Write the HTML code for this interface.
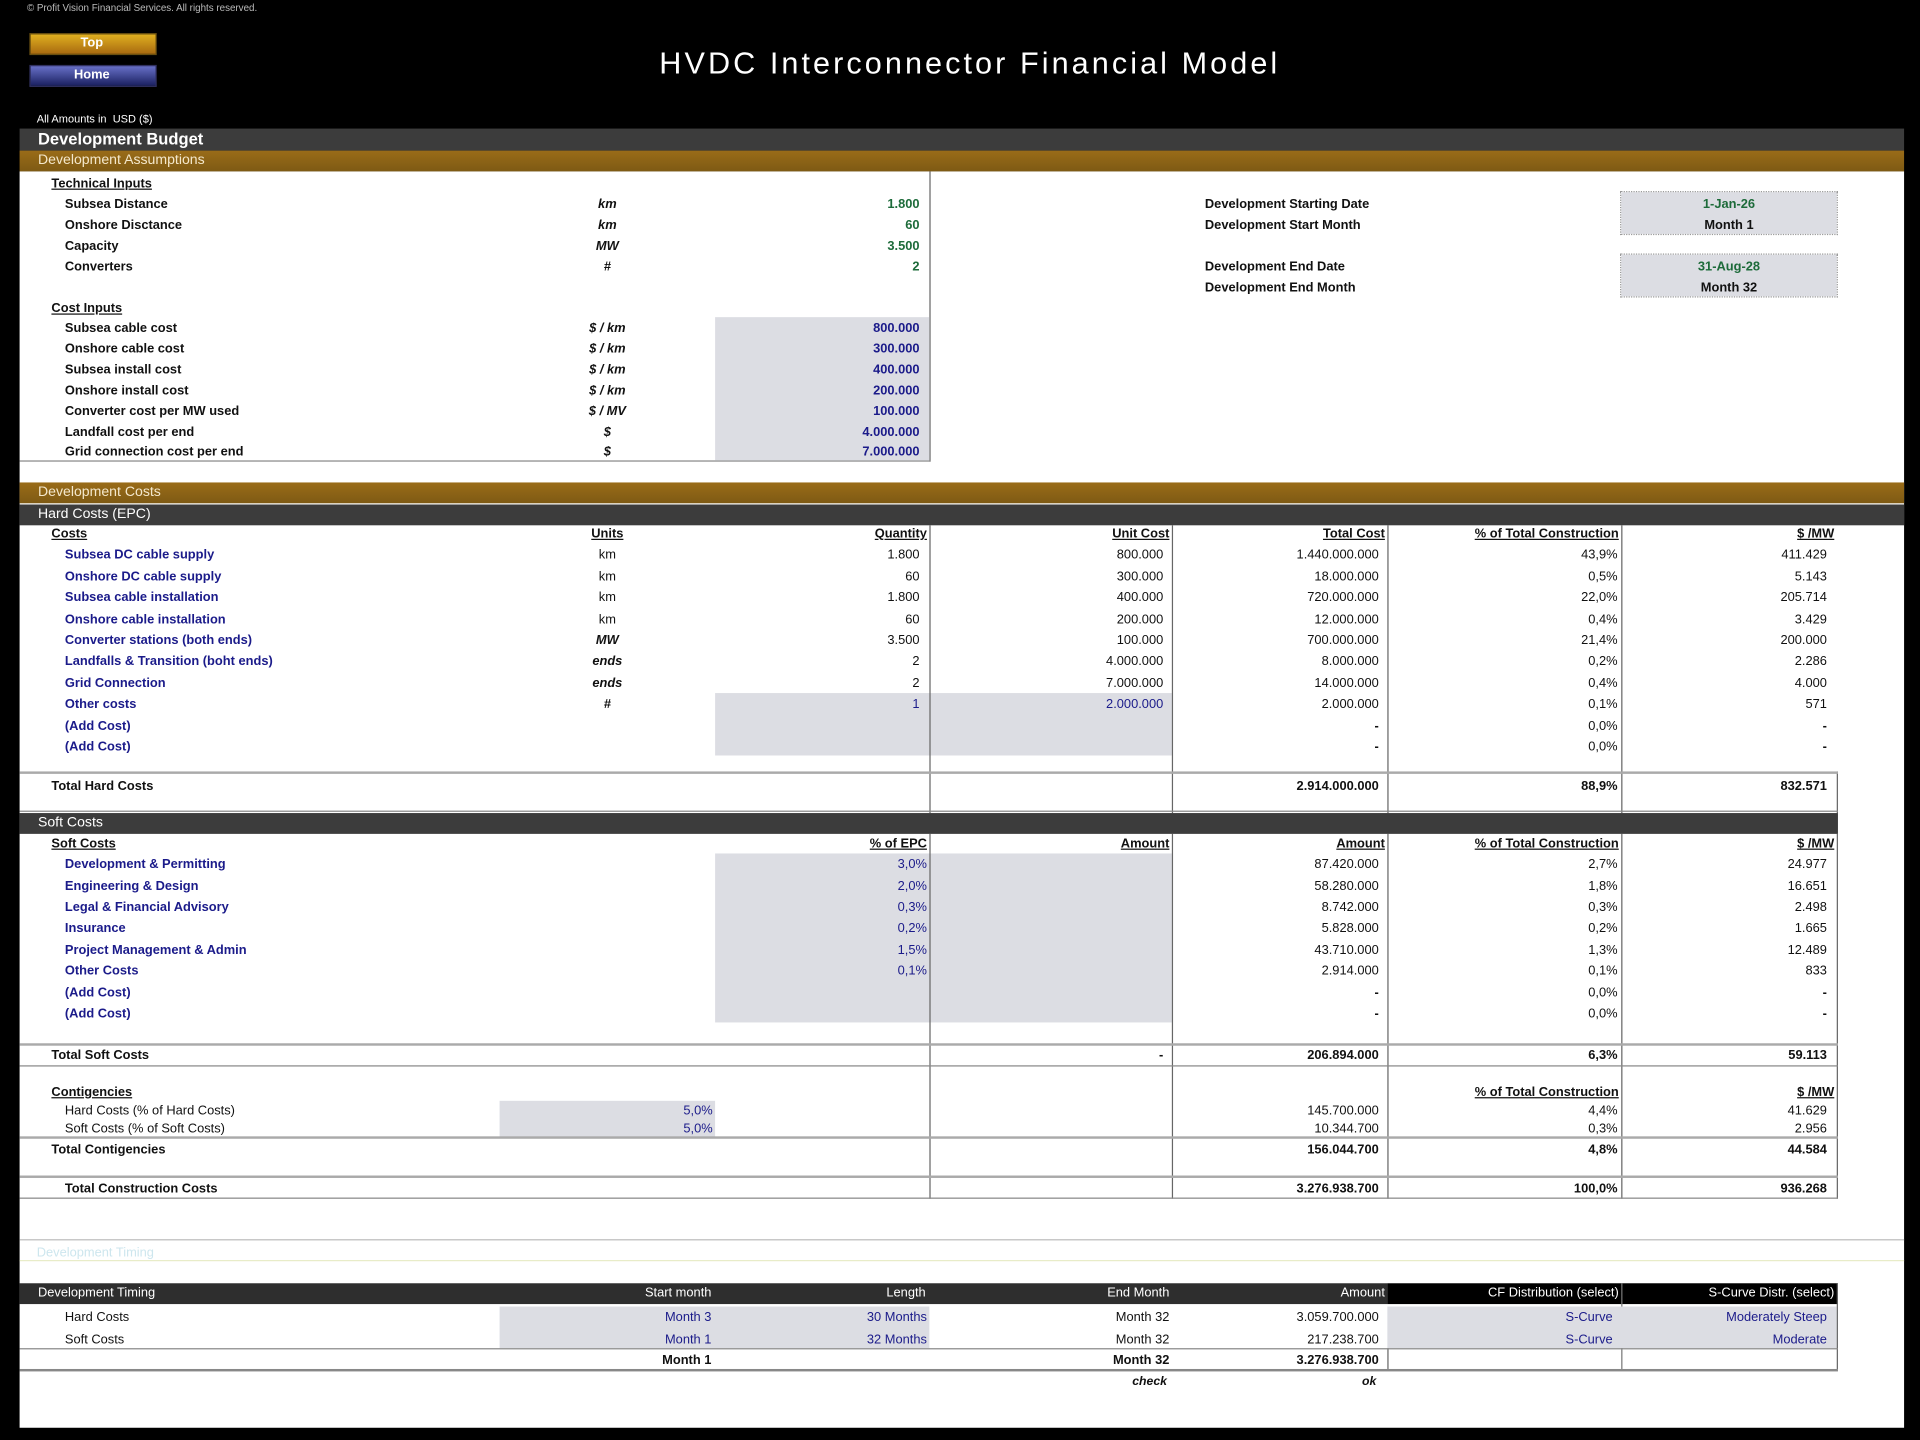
<!DOCTYPE html>
<html><head><meta charset="utf-8"><style>
html,body{margin:0;padding:0;background:#000;}
#wrap{position:relative;width:1568px;height:1176px;transform:scale(1.22449);transform-origin:0 0;background:#000;overflow:hidden;font-family:"Liberation Sans",sans-serif;}
div{position:absolute;}
.t{white-space:nowrap;font-size:10.5px;line-height:14px;font-weight:bold;color:#111;}
.r{text-align:right;}
.c{text-align:center;}
.u{text-decoration:underline;}
.b{color:#1b1b8a;}
.g{color:#1d6b3a;}
.i{font-style:italic;}
.box{background:#dcdde3;}
.vl{width:1px;background:#666;}
.hl{height:1px;background:#888;}
.bar{color:#fff;font-weight:bold;white-space:nowrap;}
</style></head><body><div id="wrap">
<div class="t" style="left:22px;top:0px;font-size:8px;font-weight:normal;color:#bbb">© Profit Vision Financial Services. All rights reserved.</div>
<div style="left:24px;top:27px;width:102px;height:16px;background:linear-gradient(#e0b020,#a86a10);border:1px solid #6a5010"></div>
<div class="t c" style="left:24px;top:28px;width:102px;color:#fff">Top</div>
<div style="left:24px;top:53px;width:102px;height:16px;background:linear-gradient(#6870c8,#1a2060);border:1px solid #303060"></div>
<div class="t c" style="left:24px;top:54px;width:102px;color:#fff">Home</div>
<div class="bar" style="left:0;width:1584px;top:38px;text-align:center;font-size:25px;font-weight:normal;letter-spacing:2.5px">HVDC Interconnector Financial Model</div>
<div class="t" style="left:30px;top:90px;color:#fff;font-size:9px;font-weight:normal">All Amounts in&nbsp; USD ($)</div>

<div style="left:16px;top:105px;width:1539px;height:18px;background:#3c3c3c"></div>
<div class="bar" style="left:31px;top:105px;font-size:13.5px;line-height:18px">Development Budget</div>
<div style="left:16px;top:123px;width:1539px;height:17px;background:linear-gradient(#9a6c18,#7e5a14)"></div>
<div class="bar" style="left:31px;top:123px;font-size:11.5px;line-height:17px;color:#f4e8cc;font-weight:normal">Development Assumptions</div>

<div style="left:16px;top:140px;width:1539px;height:1026px;background:#fff"></div>

<!-- assumptions -->
<div class="vl" style="left:759px;top:140px;height:237px"></div>
<div class="hl" style="left:16px;top:376px;width:744px"></div>
<div class="box" style="left:584px;top:259px;width:175px;height:117px"></div>
<div class="box" style="left:1324px;top:157px;width:176px;height:34px;outline:1px dotted #999"></div>
<div class="box" style="left:1324px;top:208px;width:176px;height:34px;outline:1px dotted #999"></div>

<div class="t u" style="left:42px;top:143px">Technical Inputs</div>
<div class="t" style="left:53px;top:160px">Subsea Distance</div>
<div class="t" style="left:53px;top:177px">Onshore Disctance</div>
<div class="t" style="left:53px;top:194px">Capacity</div>
<div class="t" style="left:53px;top:211px">Converters</div>
<div class="t i c" style="left:466px;width:60px;top:160px">km</div>
<div class="t i c" style="left:466px;width:60px;top:177px">km</div>
<div class="t i c" style="left:466px;width:60px;top:194px">MW</div>
<div class="t i c" style="left:466px;width:60px;top:211px">#</div>
<div class="t r g" style="right:817px;top:160px">1.800</div>
<div class="t r g" style="right:817px;top:177px">60</div>
<div class="t r g" style="right:817px;top:194px">3.500</div>
<div class="t r g" style="right:817px;top:211px">2</div>

<div class="t u" style="left:42px;top:245px">Cost Inputs</div>
<div class="t" style="left:53px;top:261px">Subsea cable cost</div>
<div class="t" style="left:53px;top:278px">Onshore cable cost</div>
<div class="t" style="left:53px;top:295px">Subsea install cost</div>
<div class="t" style="left:53px;top:312px">Onshore install cost</div>
<div class="t" style="left:53px;top:329px">Converter cost per MW used</div>
<div class="t" style="left:53px;top:346px">Landfall cost per end</div>
<div class="t" style="left:53px;top:362px">Grid connection cost per end</div>
<div class="t i c" style="left:466px;width:60px;top:261px">$ / km</div>
<div class="t i c" style="left:466px;width:60px;top:278px">$ / km</div>
<div class="t i c" style="left:466px;width:60px;top:295px">$ / km</div>
<div class="t i c" style="left:466px;width:60px;top:312px">$ / km</div>
<div class="t i c" style="left:466px;width:60px;top:329px">$ / MV</div>
<div class="t i c" style="left:466px;width:60px;top:346px">$</div>
<div class="t i c" style="left:466px;width:60px;top:362px">$</div>
<div class="t r b" style="right:817px;top:261px">800.000</div>
<div class="t r b" style="right:817px;top:278px">300.000</div>
<div class="t r b" style="right:817px;top:295px">400.000</div>
<div class="t r b" style="right:817px;top:312px">200.000</div>
<div class="t r b" style="right:817px;top:329px">100.000</div>
<div class="t r b" style="right:817px;top:346px">4.000.000</div>
<div class="t r b" style="right:817px;top:362px">7.000.000</div>

<div class="t" style="left:984px;top:160px">Development Starting Date</div>
<div class="t" style="left:984px;top:177px">Development Start Month</div>
<div class="t" style="left:984px;top:211px">Development End Date</div>
<div class="t" style="left:984px;top:228px">Development End Month</div>
<div class="t c g" style="left:1324px;width:176px;top:160px">1-Jan-26</div>
<div class="t c" style="left:1324px;width:176px;top:177px">Month 1</div>
<div class="t c g" style="left:1324px;width:176px;top:211px">31-Aug-28</div>
<div class="t c" style="left:1324px;width:176px;top:228px">Month 32</div>

<!-- dev costs -->
<div style="left:16px;top:394px;width:1539px;height:17px;background:linear-gradient(#9a6c18,#7e5a14)"></div>
<div class="bar" style="left:31px;top:394px;font-size:11.5px;line-height:17px;color:#f4e8cc;font-weight:normal">Development Costs</div>
<div style="left:16px;top:412px;width:1539px;height:17px;background:#3c3c3c"></div>
<div class="bar" style="left:31px;top:412px;font-size:11.5px;line-height:17px;font-weight:normal">Hard Costs (EPC)</div>

<div class="box" style="left:584px;top:566px;width:373px;height:51px"></div>
<div class="box" style="left:584px;top:697px;width:373px;height:138px"></div>
<div class="box" style="left:408px;top:899px;width:176px;height:30px"></div>

<div class="vl" style="left:759px;top:429px;height:235px"></div>
<div class="vl" style="left:957px;top:429px;height:235px"></div>
<div class="vl" style="left:1133px;top:429px;height:235px"></div>
<div class="vl" style="left:1324px;top:429px;height:235px"></div>
<div class="vl" style="left:1500px;top:630px;height:34px"></div>
<div class="vl" style="left:759px;top:681px;height:298px"></div>
<div class="vl" style="left:957px;top:681px;height:298px"></div>
<div class="vl" style="left:1133px;top:681px;height:298px"></div>
<div class="vl" style="left:1324px;top:681px;height:298px"></div>
<div class="vl" style="left:1500px;top:681px;height:298px"></div>
<div class="hl" style="left:16px;top:630px;width:1485px;height:2px;background:#aaa"></div>
<div class="hl" style="left:16px;top:662px;width:1485px"></div>
<div class="hl" style="left:16px;top:852px;width:1485px;height:2px;background:#aaa"></div>
<div class="hl" style="left:16px;top:870px;width:1485px"></div>
<div class="hl" style="left:16px;top:928px;width:1485px;height:2px;background:#aaa"></div>
<div class="hl" style="left:16px;top:960px;width:1485px;height:2px;background:#aaa"></div>
<div class="hl" style="left:16px;top:978px;width:1485px"></div>

<div class="t u" style="left:42px;top:429px">Costs</div>
<div class="t u c" style="left:466px;width:60px;top:429px">Units</div>
<div class="t u r" style="right:811px;top:429px">Quantity</div>
<div class="t u r" style="right:613px;top:429px">Unit Cost</div>
<div class="t u r" style="right:437px;top:429px">Total Cost</div>
<div class="t u r" style="right:246px;top:429px">% of Total Construction</div>
<div class="t u r" style="right:70px;top:429px">$ /MW</div>

<div class="t b" style="left:53px;top:446px">Subsea DC cable supply</div>
<div class="t b" style="left:53px;top:464px">Onshore DC cable supply</div>
<div class="t b" style="left:53px;top:481px">Subsea cable installation</div>
<div class="t b" style="left:53px;top:499px">Onshore cable installation</div>
<div class="t b" style="left:53px;top:516px">Converter stations (both ends)</div>
<div class="t b" style="left:53px;top:533px">Landfalls &amp; Transition (boht ends)</div>
<div class="t b" style="left:53px;top:551px">Grid Connection</div>
<div class="t b" style="left:53px;top:568px">Other costs</div>
<div class="t b" style="left:53px;top:586px">(Add Cost)</div>
<div class="t b" style="left:53px;top:603px">(Add Cost)</div>
<div class="t c" style="left:466px;width:60px;top:446px;font-weight:normal">km</div>
<div class="t c" style="left:466px;width:60px;top:464px;font-weight:normal">km</div>
<div class="t c" style="left:466px;width:60px;top:481px;font-weight:normal">km</div>
<div class="t c" style="left:466px;width:60px;top:499px;font-weight:normal">km</div>
<div class="t c i" style="left:466px;width:60px;top:516px">MW</div>
<div class="t c i" style="left:466px;width:60px;top:533px">ends</div>
<div class="t c i" style="left:466px;width:60px;top:551px">ends</div>
<div class="t c i" style="left:466px;width:60px;top:568px">#</div>
<div class="t r" style="right:817px;top:446px;font-weight:normal">1.800</div>
<div class="t r" style="right:817px;top:464px;font-weight:normal">60</div>
<div class="t r" style="right:817px;top:481px;font-weight:normal">1.800</div>
<div class="t r" style="right:817px;top:499px;font-weight:normal">60</div>
<div class="t r" style="right:817px;top:516px;font-weight:normal">3.500</div>
<div class="t r" style="right:817px;top:533px;font-weight:normal">2</div>
<div class="t r" style="right:817px;top:551px;font-weight:normal">2</div>
<div class="t r b" style="right:817px;top:568px;font-weight:normal">1</div>
<div class="t r" style="right:618px;top:446px;font-weight:normal">800.000</div>
<div class="t r" style="right:618px;top:464px;font-weight:normal">300.000</div>
<div class="t r" style="right:618px;top:481px;font-weight:normal">400.000</div>
<div class="t r" style="right:618px;top:499px;font-weight:normal">200.000</div>
<div class="t r" style="right:618px;top:516px;font-weight:normal">100.000</div>
<div class="t r" style="right:618px;top:533px;font-weight:normal">4.000.000</div>
<div class="t r" style="right:618px;top:551px;font-weight:normal">7.000.000</div>
<div class="t r b" style="right:618px;top:568px;font-weight:normal">2.000.000</div>
<div class="t r" style="right:442px;top:446px;font-weight:normal">1.440.000.000</div>
<div class="t r" style="right:442px;top:464px;font-weight:normal">18.000.000</div>
<div class="t r" style="right:442px;top:481px;font-weight:normal">720.000.000</div>
<div class="t r" style="right:442px;top:499px;font-weight:normal">12.000.000</div>
<div class="t r" style="right:442px;top:516px;font-weight:normal">700.000.000</div>
<div class="t r" style="right:442px;top:533px;font-weight:normal">8.000.000</div>
<div class="t r" style="right:442px;top:551px;font-weight:normal">14.000.000</div>
<div class="t r" style="right:442px;top:568px;font-weight:normal">2.000.000</div>
<div class="t r" style="right:442px;top:586px">-</div>
<div class="t r" style="right:442px;top:603px">-</div>
<div class="t r" style="right:247px;top:446px;font-weight:normal">43,9%</div>
<div class="t r" style="right:247px;top:464px;font-weight:normal">0,5%</div>
<div class="t r" style="right:247px;top:481px;font-weight:normal">22,0%</div>
<div class="t r" style="right:247px;top:499px;font-weight:normal">0,4%</div>
<div class="t r" style="right:247px;top:516px;font-weight:normal">21,4%</div>
<div class="t r" style="right:247px;top:533px;font-weight:normal">0,2%</div>
<div class="t r" style="right:247px;top:551px;font-weight:normal">0,4%</div>
<div class="t r" style="right:247px;top:568px;font-weight:normal">0,1%</div>
<div class="t r" style="right:247px;top:586px;font-weight:normal">0,0%</div>
<div class="t r" style="right:247px;top:603px;font-weight:normal">0,0%</div>
<div class="t r" style="right:76px;top:446px;font-weight:normal">411.429</div>
<div class="t r" style="right:76px;top:464px;font-weight:normal">5.143</div>
<div class="t r" style="right:76px;top:481px;font-weight:normal">205.714</div>
<div class="t r" style="right:76px;top:499px;font-weight:normal">3.429</div>
<div class="t r" style="right:76px;top:516px;font-weight:normal">200.000</div>
<div class="t r" style="right:76px;top:533px;font-weight:normal">2.286</div>
<div class="t r" style="right:76px;top:551px;font-weight:normal">4.000</div>
<div class="t r" style="right:76px;top:568px;font-weight:normal">571</div>
<div class="t r" style="right:76px;top:586px">-</div>
<div class="t r" style="right:76px;top:603px">-</div>

<div class="t" style="left:42px;top:635px">Total Hard Costs</div>
<div class="t r" style="right:442px;top:635px">2.914.000.000</div>
<div class="t r" style="right:247px;top:635px">88,9%</div>
<div class="t r" style="right:76px;top:635px">832.571</div>

<!-- soft -->
<div style="left:16px;top:664px;width:1485px;height:17px;background:#3c3c3c"></div>
<div class="bar" style="left:31px;top:664px;font-size:11.5px;line-height:17px;font-weight:normal">Soft Costs</div>
<div class="t u" style="left:42px;top:682px">Soft Costs</div>
<div class="t u r" style="right:811px;top:682px">% of EPC</div>
<div class="t u r" style="right:613px;top:682px">Amount</div>
<div class="t u r" style="right:437px;top:682px">Amount</div>
<div class="t u r" style="right:246px;top:682px">% of Total Construction</div>
<div class="t u r" style="right:70px;top:682px">$ /MW</div>

<div class="t b" style="left:53px;top:699px">Development &amp; Permitting</div>
<div class="t b" style="left:53px;top:717px">Engineering &amp; Design</div>
<div class="t b" style="left:53px;top:734px">Legal &amp; Financial Advisory</div>
<div class="t b" style="left:53px;top:751px">Insurance</div>
<div class="t b" style="left:53px;top:769px">Project Management &amp; Admin</div>
<div class="t b" style="left:53px;top:786px">Other Costs</div>
<div class="t b" style="left:53px;top:804px">(Add Cost)</div>
<div class="t b" style="left:53px;top:821px">(Add Cost)</div>
<div class="t r b" style="right:811px;top:699px;font-weight:normal">3,0%</div>
<div class="t r b" style="right:811px;top:717px;font-weight:normal">2,0%</div>
<div class="t r b" style="right:811px;top:734px;font-weight:normal">0,3%</div>
<div class="t r b" style="right:811px;top:751px;font-weight:normal">0,2%</div>
<div class="t r b" style="right:811px;top:769px;font-weight:normal">1,5%</div>
<div class="t r b" style="right:811px;top:786px;font-weight:normal">0,1%</div>
<div class="t r" style="right:442px;top:699px;font-weight:normal">87.420.000</div>
<div class="t r" style="right:442px;top:717px;font-weight:normal">58.280.000</div>
<div class="t r" style="right:442px;top:734px;font-weight:normal">8.742.000</div>
<div class="t r" style="right:442px;top:751px;font-weight:normal">5.828.000</div>
<div class="t r" style="right:442px;top:769px;font-weight:normal">43.710.000</div>
<div class="t r" style="right:442px;top:786px;font-weight:normal">2.914.000</div>
<div class="t r" style="right:442px;top:804px">-</div>
<div class="t r" style="right:442px;top:821px">-</div>
<div class="t r" style="right:247px;top:699px;font-weight:normal">2,7%</div>
<div class="t r" style="right:247px;top:717px;font-weight:normal">1,8%</div>
<div class="t r" style="right:247px;top:734px;font-weight:normal">0,3%</div>
<div class="t r" style="right:247px;top:751px;font-weight:normal">0,2%</div>
<div class="t r" style="right:247px;top:769px;font-weight:normal">1,3%</div>
<div class="t r" style="right:247px;top:786px;font-weight:normal">0,1%</div>
<div class="t r" style="right:247px;top:804px;font-weight:normal">0,0%</div>
<div class="t r" style="right:247px;top:821px;font-weight:normal">0,0%</div>
<div class="t r" style="right:76px;top:699px;font-weight:normal">24.977</div>
<div class="t r" style="right:76px;top:717px;font-weight:normal">16.651</div>
<div class="t r" style="right:76px;top:734px;font-weight:normal">2.498</div>
<div class="t r" style="right:76px;top:751px;font-weight:normal">1.665</div>
<div class="t r" style="right:76px;top:769px;font-weight:normal">12.489</div>
<div class="t r" style="right:76px;top:786px;font-weight:normal">833</div>
<div class="t r" style="right:76px;top:804px">-</div>
<div class="t r" style="right:76px;top:821px">-</div>

<div class="t" style="left:42px;top:855px">Total Soft Costs</div>
<div class="t r" style="right:618px;top:855px">-</div>
<div class="t r" style="right:442px;top:855px">206.894.000</div>
<div class="t r" style="right:247px;top:855px">6,3%</div>
<div class="t r" style="right:76px;top:855px">59.113</div>

<div class="t u" style="left:42px;top:885px">Contigencies</div>
<div class="t u r" style="right:246px;top:885px">% of Total Construction</div>
<div class="t u r" style="right:70px;top:885px">$ /MW</div>
<div class="t" style="left:53px;top:900px;font-weight:normal">Hard Costs (% of Hard Costs)</div>
<div class="t" style="left:53px;top:915px;font-weight:normal">Soft Costs (% of Soft Costs)</div>
<div class="t r b" style="right:986px;top:900px;font-weight:normal">5,0%</div>
<div class="t r b" style="right:986px;top:915px;font-weight:normal">5,0%</div>
<div class="t r" style="right:442px;top:900px;font-weight:normal">145.700.000</div>
<div class="t r" style="right:442px;top:915px;font-weight:normal">10.344.700</div>
<div class="t r" style="right:247px;top:900px;font-weight:normal">4,4%</div>
<div class="t r" style="right:247px;top:915px;font-weight:normal">0,3%</div>
<div class="t r" style="right:76px;top:900px;font-weight:normal">41.629</div>
<div class="t r" style="right:76px;top:915px;font-weight:normal">2.956</div>
<div class="t" style="left:42px;top:932px">Total Contigencies</div>
<div class="t r" style="right:442px;top:932px">156.044.700</div>
<div class="t r" style="right:247px;top:932px">4,8%</div>
<div class="t r" style="right:76px;top:932px">44.584</div>
<div class="t" style="left:53px;top:964px">Total Construction Costs</div>
<div class="t r" style="right:442px;top:964px">3.276.938.700</div>
<div class="t r" style="right:247px;top:964px">100,0%</div>
<div class="t r" style="right:76px;top:964px">936.268</div>

<!-- faded -->
<div class="hl" style="left:16px;top:1012px;width:1539px;background:#bbb"></div>
<div class="t" style="left:30px;top:1016px;color:#cde6ee;font-weight:normal">Development Timing</div>
<div class="hl" style="left:16px;top:1029px;width:1539px;background:#e8ecc8"></div>

<!-- timing -->
<div style="left:16px;top:1048px;width:1117px;height:17px;background:#2e2e2e"></div>
<div style="left:1133px;top:1048px;width:368px;height:17px;background:#000"></div>
<div class="vl" style="left:1324px;top:1048px;height:70px;background:#777"></div>
<div class="bar" style="left:31px;top:1050px;font-size:10.5px;font-weight:normal">Development Timing</div>
<div class="bar r" style="right:987px;top:1050px;font-size:10.5px;font-weight:normal">Start month</div>
<div class="bar r" style="right:812px;top:1050px;font-size:10.5px;font-weight:normal">Length</div>
<div class="bar r" style="right:613px;top:1050px;font-size:10.5px;font-weight:normal">End Month</div>
<div class="bar r" style="right:437px;top:1050px;font-size:10.5px;font-weight:normal">Amount</div>
<div class="bar r" style="right:246px;top:1050px;font-size:10.5px;font-weight:normal">CF Distribution (select)</div>
<div class="bar r" style="right:70px;top:1050px;font-size:10.5px;font-weight:normal">S-Curve Distr. (select)</div>
<div class="box" style="left:408px;top:1067px;width:351px;height:34px"></div>
<div class="box" style="left:1133px;top:1067px;width:367px;height:34px"></div>
<div class="vl" style="left:1133px;top:1101px;height:17px"></div>
<div class="vl" style="left:1500px;top:1048px;height:70px"></div>
<div class="hl" style="left:16px;top:1101px;width:1485px"></div>
<div class="hl" style="left:16px;top:1118px;width:1485px;height:2px"></div>
<div class="t" style="left:53px;top:1069px;font-weight:normal">Hard Costs</div>
<div class="t" style="left:53px;top:1087px;font-weight:normal">Soft Costs</div>
<div class="t r b" style="right:987px;top:1069px;font-weight:normal">Month 3</div>
<div class="t r b" style="right:987px;top:1087px;font-weight:normal">Month 1</div>
<div class="t r b" style="right:811px;top:1069px;font-weight:normal">30 Months</div>
<div class="t r b" style="right:811px;top:1087px;font-weight:normal">32 Months</div>
<div class="t r" style="right:613px;top:1069px;font-weight:normal">Month 32</div>
<div class="t r" style="right:613px;top:1087px;font-weight:normal">Month 32</div>
<div class="t r" style="right:442px;top:1069px;font-weight:normal">3.059.700.000</div>
<div class="t r" style="right:442px;top:1087px;font-weight:normal">217.238.700</div>
<div class="t r b" style="right:251px;top:1069px;font-weight:normal">S-Curve</div>
<div class="t r b" style="right:251px;top:1087px;font-weight:normal">S-Curve</div>
<div class="t r b" style="right:76px;top:1069px;font-weight:normal">Moderately Steep</div>
<div class="t r b" style="right:76px;top:1087px;font-weight:normal">Moderate</div>
<div class="t r" style="right:987px;top:1104px">Month 1</div>
<div class="t r" style="right:613px;top:1104px">Month 32</div>
<div class="t r" style="right:442px;top:1104px">3.276.938.700</div>
<div class="t r i" style="right:615px;top:1122px;font-size:10px">check</div>
<div class="t r i" style="right:444px;top:1122px;font-size:10px">ok</div>
</div></body></html>
